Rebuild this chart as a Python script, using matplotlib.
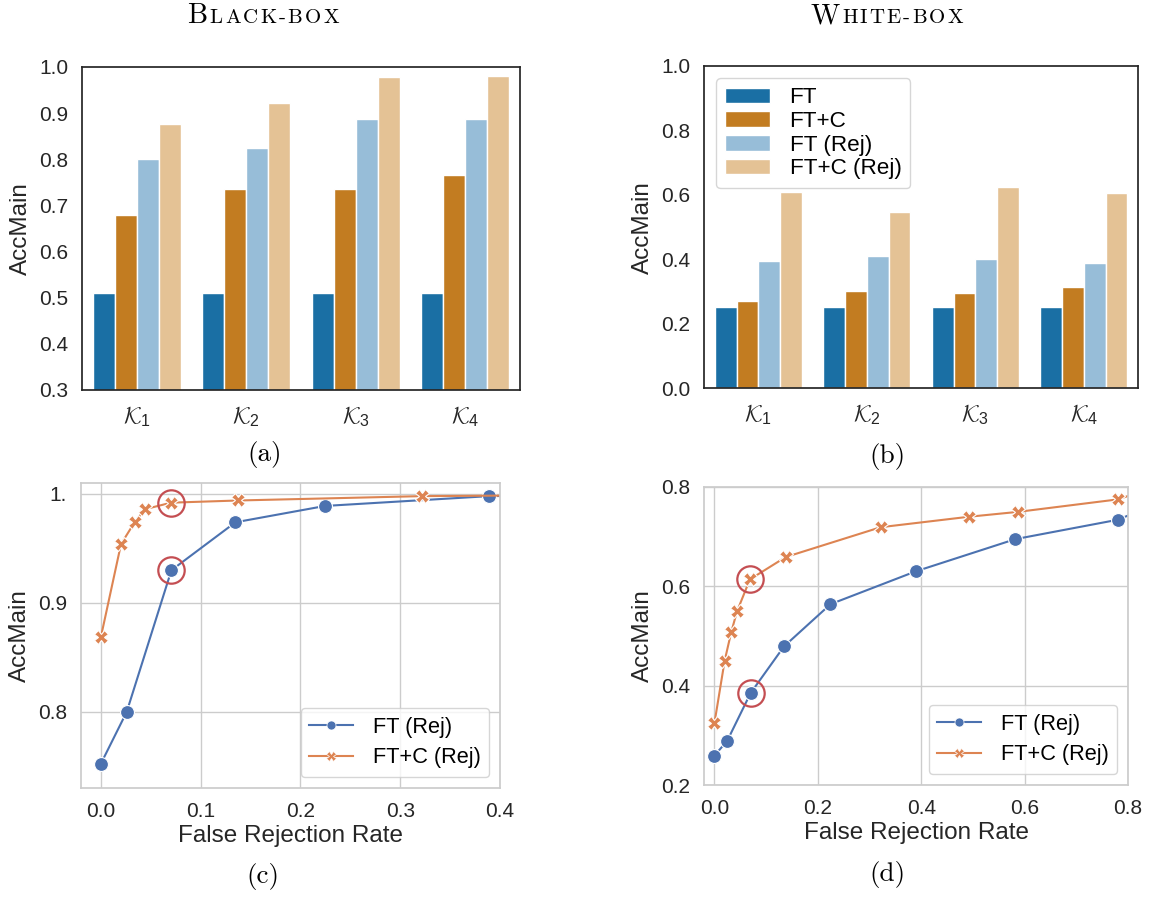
import matplotlib
matplotlib.use('Agg')
import numpy as np
import matplotlib.pyplot as plt
from matplotlib.lines import Line2D
from matplotlib.offsetbox import TextArea, HPacker, AnchoredOffsetbox

plt.rcParams['font.family'] = ['Liberation Sans', 'DejaVu Sans']
plt.rcParams['mathtext.fontset'] = 'custom'
plt.rcParams['mathtext.rm'] = 'Liberation Sans'
plt.rcParams['mathtext.cal'] = 'cmsy10'

# --- data -------------------------------------------------------------
keys = [r'$\mathcal{K}_1$', r'$\mathcal{K}_2$', r'$\mathcal{K}_3$', r'$\mathcal{K}_4$']
methods = ['FT', 'FT+C', 'FT (Rej)', 'FT+C (Rej)']

black_ft = [0.51, 0.51, 0.51, 0.51]
black_ftc = [0.679, 0.736, 0.736, 0.765]
black_ft_rej = [0.800, 0.825, 0.887, 0.887]
black_ftc_rej = [0.877, 0.923, 0.978, 0.981]

white_ft = [0.253, 0.253, 0.253, 0.253]
white_ftc = [0.272, 0.303, 0.295, 0.314]
white_ft_rej = [0.395, 0.410, 0.400, 0.390]
white_ftc_rej = [0.609, 0.546, 0.623, 0.605]

# false rejection rate vs accuracy (c: black-box, d: white-box)
frr_ft_c = [0.0, 0.0258, 0.0706, 0.1348, 0.2247, 0.389, 0.582]
acc_ft_c = [0.7526, 0.800, 0.930, 0.974, 0.989, 0.998, 0.9995]
frr_ftc_c = [0.0, 0.0201, 0.0337, 0.0441, 0.0703, 0.1376, 0.3215, 0.4915]
acc_ftc_c = [0.869, 0.954, 0.974, 0.986, 0.992, 0.994, 0.998, 0.999]

frr_ft_d = [0.0, 0.0248, 0.070, 0.1346, 0.2245, 0.389, 0.582, 0.780, 0.95]
acc_ft_d = [0.259, 0.289, 0.385, 0.479, 0.564, 0.630, 0.695, 0.734, 0.806]
frr_ftc_d = [0.0, 0.0198, 0.0326, 0.0439, 0.0687, 0.138, 0.3215, 0.4915, 0.588, 0.780, 0.95]
acc_ftc_d = [0.324, 0.450, 0.508, 0.550, 0.614, 0.659, 0.719, 0.740, 0.750, 0.775, 0.833]

# highlighted operating points (index into the lists above)
hl_ft = 2
hl_ftc = 4

yticks_c = [0.8, 0.9, 1.0]
ylabels_c = ['0.8', '0.9', '1.']

bar_colors = ['#1a6fa4', '#c27c21', '#97bdd8', '#e4c295']
blue = '#4c72b0'
orange = '#dd8452'
red = '#c44e52'
dark = '#262626'
grey = '#cccccc'

fig = plt.figure(figsize=(11.54, 8.99), dpi=100)
ax_a = fig.add_axes([0.0711, 0.5662, 0.3795, 0.3593])
ax_b = fig.add_axes([0.6101, 0.5681, 0.3761, 0.3585])
ax_c = fig.add_axes([0.0702, 0.1235, 0.3631, 0.3393])
ax_d = fig.add_axes([0.6101, 0.1268, 0.3674, 0.3315])


def bars(ax, series, ylim, yticks):
    x = np.arange(len(keys))
    w = 0.2
    for j, vals in enumerate(series):
        ax.bar(x + (j - 1.5) * w, vals, w, color=bar_colors[j],
               edgecolor='white', linewidth=1, label=methods[j])
    ax.set_xlim(-0.5, len(keys) - 0.5)
    ax.set_ylim(*ylim)
    ax.set_xticks(x)
    ax.set_xticklabels(keys)
    ax.set_yticks(yticks)
    ax.set_yticklabels(['%.1f' % t for t in yticks])
    ax.set_ylabel('AccMain', fontsize=17.5, color=dark, labelpad=5)
    ax.tick_params(length=0, labelsize=15, colors=dark, pad=10)
    ax.tick_params(axis='x', labelsize=16.5)
    for s in ax.spines.values():
        s.set_color(dark)
        s.set_linewidth(1.25)


bars(ax_a, [black_ft, black_ftc, black_ft_rej, black_ftc_rej], (0.3, 1.0),
     [0.3, 0.4, 0.5, 0.6, 0.7, 0.8, 0.9, 1.0])
bars(ax_b, [white_ft, white_ftc, white_ft_rej, white_ftc_rej], (0.0, 1.0),
     [0.0, 0.2, 0.4, 0.6, 0.8, 1.0])
ax_b.legend(loc='upper left', fontsize=16.2, labelspacing=0.12,
            handletextpad=0.85, borderaxespad=0.55)


def curves(ax, fx, fy, cx, cy, xlim, ylim, xticks, yticks, ylabels):
    ax.plot(fx, fy, '-o', color=blue, lw=1.5, ms=10, mec='white', mew=0.8)
    ax.plot(cx, cy, '-X', color=orange, lw=1.5, ms=10, mec='white', mew=0.8)
    ax.plot(fx[hl_ft], fy[hl_ft], 'o', mfc='none', mec=red, ms=19, mew=1.6)
    ax.plot(cx[hl_ftc], cy[hl_ftc], 'o', mfc='none', mec=red, ms=19, mew=1.6)
    ax.set_xlim(*xlim)
    ax.set_ylim(*ylim)
    ax.set_xticks(xticks)
    ax.set_xticklabels(['%.1f' % t for t in xticks])
    ax.set_yticks(yticks)
    ax.set_yticklabels(ylabels)
    ax.grid(True, color=grey, lw=1)
    ax.set_axisbelow(True)
    ax.set_xlabel('False Rejection Rate', fontsize=17.5, color=dark, labelpad=3)
    ax.set_ylabel('AccMain', fontsize=17.5, color=dark, labelpad=5)
    ax.tick_params(length=0, labelsize=15, colors=dark, pad=10)
    for s in ax.spines.values():
        s.set_color(grey)
        s.set_linewidth(1.25)
    handles = [Line2D([], [], color=blue, marker='o', lw=1.5, ms=6.5, mec='white', mew=0.5),
               Line2D([], [], color=orange, marker='X', lw=1.5, ms=7, mec='white', mew=0.5)]
    ax.legend(handles, ['FT (Rej)', 'FT+C (Rej)'], loc='lower right', fontsize=15.7,
              labelspacing=0.45, handletextpad=0.9, borderaxespad=0.5)


curves(ax_c, frr_ft_c, acc_ft_c, frr_ftc_c, acc_ftc_c, (-0.02, 0.4), (0.7302, 1.0101),
       [0.0, 0.1, 0.2, 0.3, 0.4], yticks_c, ylabels_c)
curves(ax_d, frr_ft_d, acc_ft_d, frr_ftc_d, acc_ftc_d, (-0.02, 0.8), (0.2, 0.8),
       [0.0, 0.2, 0.4, 0.6, 0.8], [0.2, 0.4, 0.6, 0.8], ['0.2', '0.4', '0.6', '0.8'])


def small_caps(text, x, y, big=20.5, small=15, gap=1.6):
    # fake small caps: first letter large, the rest as spaced smaller capitals
    parts = [TextArea(text[0], textprops=dict(family='cmr10', size=big, color='black'))]
    for ch in text[1:].upper():
        parts.append(TextArea(ch, textprops=dict(family='cmr10', size=small, color='black')))
    box = HPacker(children=parts, align='baseline', pad=0, sep=gap)
    anc = AnchoredOffsetbox(loc='center', child=box, frameon=False, pad=0, borderpad=0,
                            bbox_to_anchor=(x, y), bbox_transform=fig.transFigure)
    fig.add_artist(anc)


small_caps('Black-box', 263 / 1154, 1 - 16 / 899)
small_caps('White-box', 887 / 1154, 1 - 16 / 899)

for lab, x, y in [('(a)', 265, 455), ('(b)', 887, 457), ('(c)', 263, 876), ('(d)', 887, 874)]:
    fig.text(x / 1154, 1 - y / 899, lab, family='cmr10', fontsize=19.5,
             ha='center', va='center', color='black')

fig.savefig('out.png', dpi=100, facecolor='white')
